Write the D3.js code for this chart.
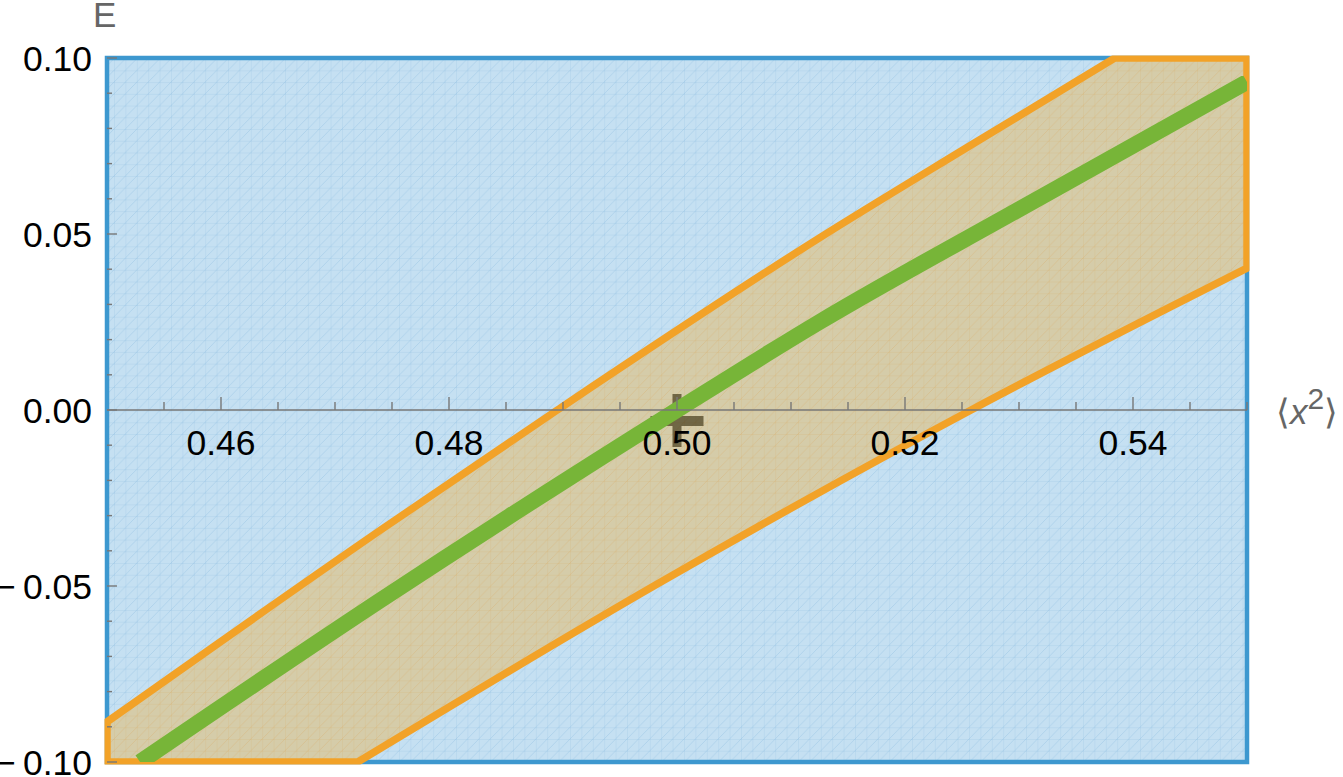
<!DOCTYPE html>
<html>
<head>
<meta charset="utf-8">
<script src="https://cdn.jsdelivr.net/npm/d3@7"></script>
<style>
  body { margin: 0; background: #fff; }
  svg { display: block; font-family: "Liberation Sans", Arial, sans-serif; }
</style>
</head>
<body>
<svg id="chart" width="1343" height="777"></svg>
<script>
// axis ranges and ticks
const xDomain = [0.45, 0.55];
const yDomain = [-0.10, 0.10];
const xMajorTicks = [0.46, 0.48, 0.50, 0.52, 0.54];
const xMinorTicks = d3.range(0.455, 0.5501, 0.005);
const yMajorTicks = [-0.10, -0.05, 0.00, 0.05, 0.10];
const yMinorTicks = d3.range(-0.10, 0.1001, 0.01);

// curves, [<x^2>, E]
const centerCurve = [[0.4529, -0.1], [0.4740, -0.054], [0.5000, 0.0],
  [0.5125, 0.025], [0.5301, 0.0572], [0.5500, 0.0932]];
const upperEdge = [[0.4500, -0.0886], [0.4740, -0.0341], [0.4895, 0.0], [0.5125, 0.0489],
  [0.5254, 0.0745], [0.5384, 0.1]];
const lowerEdge = [[0.4720, -0.1], [0.4985, -0.049], [0.5258, 0.0], [0.5500, 0.0403]];
const marker = [0.5, 0.0];

const svg = d3.select("#chart");
const x = d3.scaleLinear().domain(xDomain).range([107, 1247]);
const y = d3.scaleLinear().domain(yDomain).range([762, 58]);

const defs = svg.append("defs");
defs.append("clipPath").attr("id", "plotclip")
  .append("rect")
  .attr("x", x(xDomain[0])).attr("y", y(yDomain[1]))
  .attr("width", x(xDomain[1]) - x(xDomain[0]))
  .attr("height", y(yDomain[0]) - y(yDomain[1]));
defs.append("clipPath").attr("id", "bandclip")
  .append("rect")
  .attr("x", x(xDomain[0]) - 2.5).attr("y", y(yDomain[1]) - 2.5)
  .attr("width", x(xDomain[1]) - x(xDomain[0]) + 5)
  .attr("height", y(yDomain[0]) - y(yDomain[1]) + 5);

// faint mesh, like the region plot's
function meshPattern(id, color) {
  const p = defs.append("pattern").attr("id", id)
    .attr("patternUnits", "userSpaceOnUse")
    .attr("width", 11.4).attr("height", 11.73);
  p.append("path")
    .attr("d", "M0,0V11.73M0,0H11.4M0,11.73L11.4,0")
    .attr("stroke", color).attr("stroke-width", 0.8).attr("fill", "none");
}
meshPattern("meshBlue", "rgba(120,175,215,0.35)");
meshPattern("meshTan", "rgba(215,165,90,0.35)");

const plotX = x(xDomain[0]), plotY = y(yDomain[1]);
const plotW = x(xDomain[1]) - plotX, plotH = y(yDomain[0]) - plotY;

svg.append("rect")
  .attr("x", plotX).attr("y", plotY).attr("width", plotW).attr("height", plotH)
  .attr("fill", "#c5e0f2");
svg.append("rect")
  .attr("x", plotX).attr("y", plotY).attr("width", plotW).attr("height", plotH)
  .attr("fill", "url(#meshBlue)");

// y axis line sits under the frame
svg.append("line")
  .attr("x1", plotX).attr("x2", plotX).attr("y1", plotY).attr("y2", plotY + plotH)
  .attr("stroke", "#555");

// frame
svg.append("rect")
  .attr("x", plotX).attr("y", plotY).attr("width", plotW).attr("height", plotH)
  .attr("fill", "none").attr("stroke", "#3d98cf").attr("stroke-width", 4.5);

// band between the two edges, closed along the frame
const curve = d3.line().x(d => x(d[0])).y(d => y(d[1])).curve(d3.curveMonotoneX);
const up = curve(upperEdge);
const low = curve(lowerEdge.slice().reverse()).replace(/^M/, "L");
const bandPath = up
  + `L${x(xDomain[1])},${y(yDomain[1])}`
  + `L${x(xDomain[1])},${y(lowerEdge[lowerEdge.length - 1][1])}`
  + low
  + `L${x(xDomain[0])},${y(yDomain[0])}Z`;

const band = svg.append("g").attr("clip-path", "url(#bandclip)");
band.append("path").attr("d", bandPath).attr("fill", "#d5cca9");
band.append("path").attr("d", bandPath).attr("fill", "url(#meshTan)");
band.append("path").attr("d", bandPath)
  .attr("fill", "none").attr("stroke", "#f2a228").attr("stroke-width", 7.5)
  .attr("stroke-linejoin", "round");

// marker at the point
const mk = svg.append("g").attr("fill", "rgba(50,40,10,0.62)");
mk.append("rect")
  .attr("x", x(marker[0]) - 26.5).attr("y", y(marker[1]) + 6)
  .attr("width", 53).attr("height", 10);
mk.append("rect")
  .attr("x", x(marker[0]) - 4.5).attr("y", y(marker[1]) - 16)
  .attr("width", 9).attr("height", 22);
mk.append("rect")
  .attr("x", x(marker[0]) - 4.5).attr("y", y(marker[1]) + 16)
  .attr("width", 9).attr("height", 21);

// center curve
svg.append("g").attr("clip-path", "url(#plotclip)")
  .append("path")
  .attr("d", curve(centerCurve))
  .attr("fill", "none").attr("stroke", "#77b538").attr("stroke-width", 16);

// x axis along E = 0
const axisColor = "#777";
svg.append("line")
  .attr("x1", plotX).attr("x2", plotX + plotW).attr("y1", y(0)).attr("y2", y(0))
  .attr("stroke", axisColor).attr("stroke-width", 1.4);

svg.append("g").selectAll("line")
  .data(xMinorTicks)
  .join("line")
  .attr("x1", d => x(d)).attr("x2", d => x(d))
  .attr("y1", y(0))
  .attr("y2", d => xMajorTicks.some(t => Math.abs(t - d) < 1e-6) ? y(0) - 13 : y(0) - 8)
  .attr("stroke", axisColor).attr("stroke-width", 1.4);

svg.append("g").selectAll("text")
  .data(xMajorTicks)
  .join("text")
  .attr("x", d => x(d)).attr("y", y(0) + 45)
  .attr("text-anchor", "middle")
  .attr("font-size", 35.5).attr("fill", "#000")
  .text(d => d3.format(".2f")(d));

// y ticks on the left edge
svg.append("g").selectAll("line")
  .data(yMinorTicks)
  .join("line")
  .attr("y1", d => y(d)).attr("y2", d => y(d))
  .attr("x1", plotX)
  .attr("x2", d => yMajorTicks.some(t => Math.abs(t - d) < 1e-6) ? plotX + 10 : plotX + 5)
  .attr("stroke", axisColor).attr("stroke-width", 1.4);

svg.append("g").selectAll("text")
  .data(yMajorTicks)
  .join("text")
  .attr("x", 92).attr("y", d => y(d) + 12.5)
  .attr("text-anchor", "end")
  .attr("font-size", 35.5).attr("fill", "#000")
  .text(d => d < 0 ? "\u2212\u2009" + d3.format(".2f")(-d) : d3.format(".2f")(d));

// axis labels
svg.append("text")
  .attr("x", 93).attr("y", 27)
  .attr("font-size", 35).attr("fill", "#666")
  .text("E");

const xl = svg.append("text")
  .attr("x", 1276).attr("y", 424)
  .attr("font-size", 35).attr("fill", "#666");
xl.append("tspan").text("\u27E8");
xl.append("tspan").attr("font-style", "italic").text("x");
xl.append("tspan").attr("font-size", 30).attr("dy", -15).text("2");
xl.append("tspan").attr("dy", 15).text("\u27E9");
</script>
</body>
</html>
